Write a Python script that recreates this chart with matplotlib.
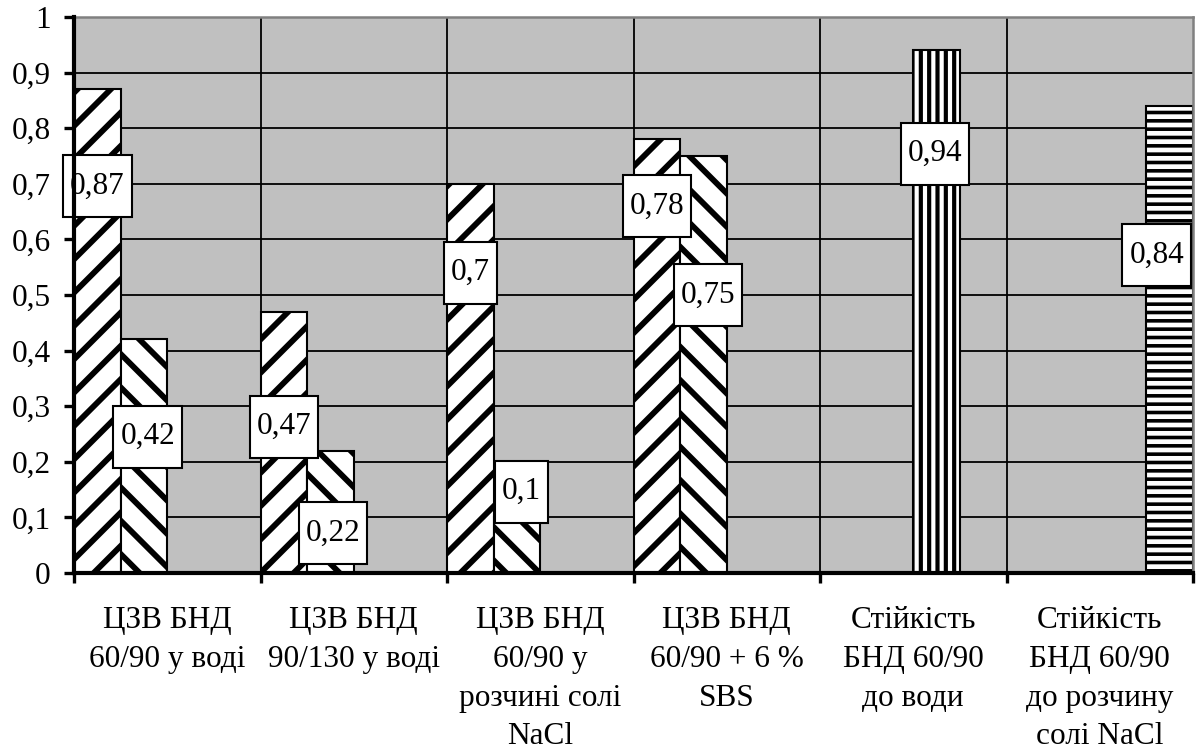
import numpy as np
import matplotlib
matplotlib.use("Agg")
import matplotlib.pyplot as plt
from matplotlib.path import Path

plt.rcParams['font.family'] = ['Liberation Serif', 'DejaVu Serif']

categories = ["ЦЗВ БНД\n60/90 у воді", "ЦЗВ БНД\n90/130 у воді",
              "ЦЗВ БНД\n60/90 у\nрозчині солі\nNaCl", "ЦЗВ БНД\n60/90 + 6 %\nSBS",
              "Стійкість\nБНД 60/90\nдо води", "Стійкість\nБНД 60/90\nдо розчину\nсолі NaCl"]

# four series, gaps where a series has no value
ser_a = [0.87, 0.47, 0.7, 0.78, None, None]
ser_b = [0.42, 0.22, 0.1, 0.75, None, None]
ser_c = [None, None, None, None, 0.94, None]
ser_d = [None, None, None, None, None, 0.84]

# where each value box sits (y in data units, x shift in bar widths)
lab_y_a = [0.696, 0.263, 0.54, 0.66, None, None]
lab_y_b = [0.245, 0.072, 0.146, 0.50, None, None]
lab_y_c = [None, None, None, None, 0.754, None]
lab_y_d = [None, None, None, None, None, 0.572]
lab_dx_a = [0.0, 0.0, 0.0, 0.0, 0, 0]
lab_dx_b = [0.08, 0.06, 0.1, 0.1, 0, 0]
lab_dx_c = [0, 0, 0, 0, -0.04, 0]
lab_dx_d = [0, 0, 0, 0, 0, -0.28]

y_ticks = [0, 0.1, 0.2, 0.3, 0.4, 0.5, 0.6, 0.7, 0.8, 0.9, 1]
y_tick_labels = ['0', '0,1', '0,2', '0,3', '0,4', '0,5', '0,6', '0,7', '0,8', '0,9', '1']

# values, hatch, hatch line width, label y, label shift
series = [(ser_a, '/', 4.2, lab_y_a, lab_dx_a),
          (ser_b, '\\', 4.2, lab_y_b, lab_dx_b),
          (ser_c, '||', 3.0, lab_y_c, lab_dx_c),
          (ser_d, '--', 2.6, lab_y_d, lab_dx_d)]


def label_box(x0, y0, width, height, mutation_size):
    # rectangle with more room above/below than at the sides
    px = 0.22 * mutation_size
    py = 0.52 * mutation_size
    x0, y0 = x0 - px, y0 - py
    x1, y1 = x0 + width + 2 * px, y0 + height + 2 * py
    return Path([(x0, y0), (x1, y0), (x1, y1), (x0, y1), (x0, y0)], closed=True)


fs = 22.5
fig = plt.figure(figsize=(11.97, 7.55), dpi=100)
ax = fig.add_axes([74 / 1197, 1 - 573 / 755, (1193 - 74) / 1197, (573 - 17) / 755])
ax.set_facecolor('#C0C0C0')

n = len(series)
w = 1.0 / n
for s, (vals, hatch, hlw, ly, ldx) in enumerate(series):
    for i, v in enumerate(vals):
        if v is None:
            continue
        xc = i + (s + 0.5) * w
        with plt.rc_context({'hatch.linewidth': hlw}):
            bars = ax.bar(xc, v, width=w, color='white', edgecolor='black',
                          linewidth=1.5, hatch=hatch, zorder=2)
        for b in bars:
            if hasattr(b, 'set_hatch_linewidth'):
                b.set_hatch_linewidth(hlw)
        ax.text(xc + ldx[i] * w, ly[i], f'{v:g}'.replace('.', ','),
                ha='center', va='center', fontsize=fs, zorder=5,
                bbox=dict(boxstyle=label_box, facecolor='white',
                          edgecolor='black', linewidth=1.5))

ax.set_xlim(0, len(categories))
ax.set_ylim(0, 1)

# grid: horizontal at each tick, vertical at category borders
for y in y_ticks[1:-1]:
    ax.axhline(y, color='black', linewidth=1.3, zorder=1)
for x in range(1, len(categories)):
    ax.axvline(x, color='black', linewidth=1.3, zorder=1)

ax.set_yticks(y_ticks)
ax.set_yticklabels(y_tick_labels, fontsize=fs)
ax.set_xticks(np.arange(len(categories) + 1))
ax.set_xticklabels([])
ax.set_xticks(np.arange(len(categories)) + 0.5, minor=True)
ax.set_xticklabels(categories, minor=True, fontsize=fs, linespacing=1.44)
ax.tick_params(axis='y', direction='out', length=7, width=2.4, pad=10)
ax.tick_params(axis='x', which='major', direction='out', length=7, width=2.4)
ax.tick_params(axis='x', which='minor', length=0, pad=24)

for side in ['left', 'bottom']:
    ax.spines[side].set_linewidth(3)
    ax.spines[side].set_color('black')
for side in ['top', 'right']:
    ax.spines[side].set_linewidth(1.8)
    ax.spines[side].set_color('#808080')
ax.spines['left'].set_zorder(6)
ax.spines['bottom'].set_zorder(6)

fig.savefig('out.png', dpi=100)
